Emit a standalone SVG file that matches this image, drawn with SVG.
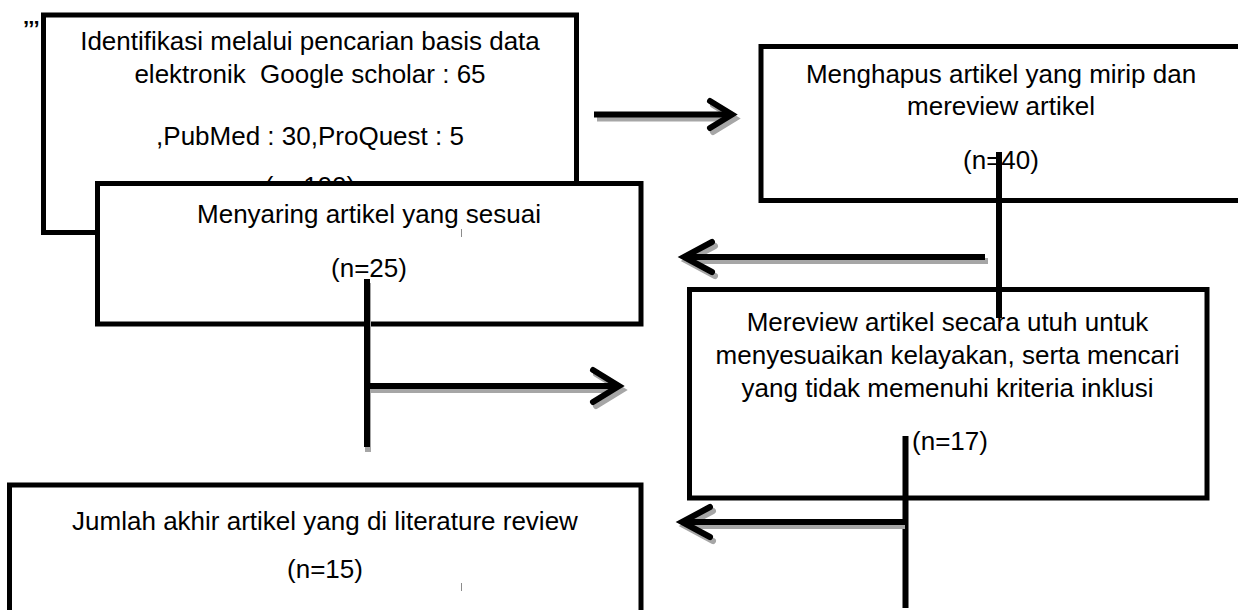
<svg xmlns="http://www.w3.org/2000/svg" width="1238" height="610" viewBox="0 0 1238 610">
<style>
.box{fill:#fff;stroke:#000;stroke-width:5}
.t{font-family:"Liberation Sans",Arial,sans-serif;font-size:26px;fill:#000;text-anchor:middle}
.ln{fill:none;stroke:#000;stroke-width:6}
.sh{fill:none;stroke:#a6a6a6;stroke-width:6}
.hd{fill:none;stroke:#000;stroke-width:6;stroke-linecap:round;stroke-linejoin:miter}
.hs{fill:none;stroke:#a6a6a6;stroke-width:6;stroke-linecap:round;stroke-linejoin:miter}
.tick{stroke:#8c8c8c;stroke-width:1}
</style>
<rect width="1238" height="610" fill="#fff"/>
<text x="23" y="36" style="font-family:'Liberation Sans',Arial,sans-serif;font-size:22px;font-weight:bold">’’’</text>
<g id="node-identifikasi">
<rect class="box" x="43.5" y="15" width="533" height="217.5"/>
<text class="t" x="310" y="50">Identifikasi melalui pencarian basis data</text>
<text class="t" x="310" y="83" xml:space="preserve">elektronik  Google scholar : 65</text>
<text class="t" x="310" y="145">,PubMed : 30,ProQuest : 5</text>
<text class="t" x="310" y="195">(n=100)</text>
</g>
<g id="node-menyaring">
<rect class="box" x="97.5" y="183.5" width="543.5" height="140.5"/>
<text class="t" x="369" y="223">Menyaring artikel yang sesuai</text>
<text class="t" x="369" y="277">(n=25)</text>
<line class="tick" x1="461.5" y1="229" x2="461.5" y2="237"/>
</g>
<g id="node-menghapus">
<rect class="box" x="761" y="46.5" width="481" height="154"/>
<text class="t" x="1001" y="83">Menghapus artikel yang mirip dan</text>
<text class="t" x="1001" y="115">mereview artikel</text>
<text class="t" x="1001" y="169">(n=40)</text>
</g>
<g id="node-mereview">
<rect class="box" x="689.5" y="289.5" width="517.5" height="208.5"/>
<text class="t" x="947.5" y="331">Mereview artikel secara utuh untuk</text>
<text class="t" x="947.5" y="364">menyesuaikan kelayakan, serta mencari</text>
<text class="t" x="947.5" y="397">yang tidak memenuhi kriteria inklusi</text>
<text class="t" x="950" y="450">(n=17)</text>
</g>
<g id="node-jumlah">
<rect class="box" x="9.5" y="485" width="631.5" height="140"/>
<text class="t" x="325" y="530">Jumlah akhir artikel yang di literature review</text>
<text class="t" x="325" y="578">(n=15)</text>
<line class="tick" x1="461.5" y1="583" x2="461.5" y2="591"/>
</g>
<g id="connectors">
<!-- arrow 1: identifikasi -> menghapus -->
<line class="sh" x1="597" y1="118.5" x2="735" y2="118.5"/>
<polyline class="hs" points="713,105 735,118.5 713,132"/>
<line class="ln" x1="594" y1="114.5" x2="732" y2="114.5"/>
<polyline class="hd" points="710,101 732,114.5 710,128"/>
<!-- menghapus down -->
<line class="ln" x1="999" y1="152" x2="999" y2="318"/>
<!-- arrow 2: to menyaring -->
<line class="sh" x1="988" y1="261" x2="688" y2="261"/>
<polyline class="hs" points="715,246 687,261 715,276"/>
<line class="ln" x1="985" y1="257" x2="685" y2="257"/>
<polyline class="hd" points="712,242 684,257 712,272"/>
<!-- menyaring down -->
<line class="sh" x1="368" y1="283" x2="368" y2="452"/>
<line class="ln" x1="367" y1="279" x2="367" y2="447"/>
<!-- arrow 3: to mereview -->
<line class="sh" x1="370" y1="390" x2="622" y2="390"/>
<polyline class="hs" points="596,374 622,390 596,406"/>
<line class="ln" x1="367" y1="386" x2="619" y2="386"/>
<polyline class="hd" points="593,370 619,386 593,402"/>
<!-- mereview down -->
<line class="ln" x1="905.5" y1="436" x2="905.5" y2="608"/>
<!-- arrow 4: to jumlah -->
<line class="sh" x1="905" y1="526" x2="686" y2="526"/>
<polyline class="hs" points="713,511 685,526 713,541"/>
<line class="ln" x1="905" y1="522" x2="683" y2="522"/>
<polyline class="hd" points="710,507 682,522 710,537"/>
</g>
</svg>
